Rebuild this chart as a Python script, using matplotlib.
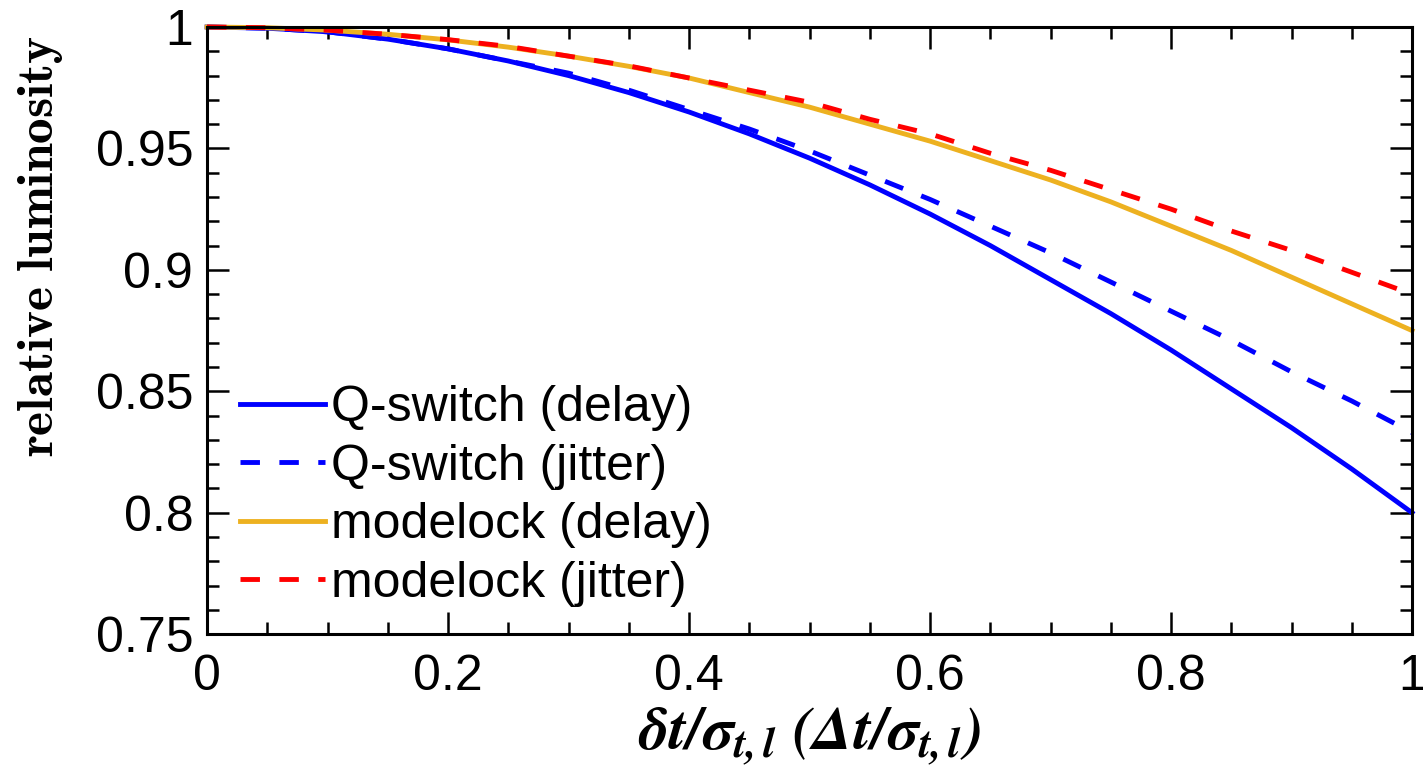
import matplotlib
matplotlib.use("Agg")
import matplotlib.pyplot as plt
from matplotlib.ticker import MultipleLocator, FuncFormatter

plt.rcParams["font.family"] = ["Liberation Sans", "DejaVu Sans"]

# values, x = 0 .. 1 in steps of 0.05
x = [0.00, 0.05, 0.10, 0.15, 0.20, 0.25, 0.30, 0.35, 0.40, 0.45, 0.50,
     0.55, 0.60, 0.65, 0.70, 0.75, 0.80, 0.85, 0.90, 0.95, 1.00]
qs_delay = [1.000, 0.9995, 0.998, 0.995, 0.991, 0.986, 0.980, 0.973, 0.965, 0.956, 0.946,
            0.935, 0.923, 0.910, 0.896, 0.882, 0.867, 0.851, 0.835, 0.818, 0.800]
qs_jitter = [1.000, 0.9995, 0.998, 0.995, 0.991, 0.986, 0.981, 0.974, 0.966, 0.958, 0.949,
             0.939, 0.929, 0.918, 0.907, 0.895, 0.883, 0.871, 0.858, 0.846, 0.833]
ml_delay = [1.000, 0.9997, 0.9987, 0.997, 0.9947, 0.9917, 0.988, 0.9838, 0.979, 0.973, 0.967,
            0.960, 0.953, 0.945, 0.937, 0.928, 0.918, 0.908, 0.897, 0.886, 0.875]
ml_jitter = [1.000, 0.9997, 0.9987, 0.997, 0.9948, 0.992, 0.988, 0.984, 0.979, 0.974, 0.969,
             0.962, 0.956, 0.948, 0.941, 0.933, 0.925, 0.916, 0.908, 0.899, 0.890]

labels = ["Q-switch (delay)", "Q-switch (jitter)", "modelock (delay)", "modelock (jitter)"]
xticks = [0, 0.2, 0.4, 0.6, 0.8, 1]
yticks = [0.75, 0.8, 0.85, 0.9, 0.95, 1]

BLUE = "#0000ff"
ORANGE = "#EDB120"
RED = "#ff0000"

fig = plt.figure(figsize=(14.23, 7.8), dpi=100)
ax = fig.add_axes([0.1455, 0.187, 0.8468, 0.7784])

LW = 3.5
ax.plot(x, qs_delay, color=BLUE, lw=LW, label=labels[0], clip_on=False)
ax.plot(x, qs_jitter, color=BLUE, lw=LW, ls=(0, (4, 4)), label=labels[1], clip_on=False)
ax.plot(x, ml_delay, color=ORANGE, lw=LW, label=labels[2], clip_on=False)
ax.plot(x, ml_jitter, color=RED, lw=LW, ls=(0, (4, 4)), label=labels[3], clip_on=False)

ax.set_xlim(0, 1)
ax.set_ylim(0.75, 1)
ax.set_xticks(xticks)
ax.set_yticks(yticks)
fmt = FuncFormatter(lambda v, p: f"{v:g}")
ax.xaxis.set_major_formatter(fmt)
ax.yaxis.set_major_formatter(fmt)
ax.xaxis.set_minor_locator(MultipleLocator(0.05))
ax.yaxis.set_minor_locator(MultipleLocator(0.01))

ax.tick_params(which="both", direction="in", top=True, right=True, width=1.8, labelsize=36)
ax.tick_params(which="major", length=16)
ax.tick_params(which="minor", length=8.5)
ax.tick_params(axis="x", pad=14)
ax.tick_params(axis="y", pad=10)
for s in ax.spines.values():
    s.set_linewidth(2.2)

ax.set_ylabel(r"$\mathbf{relative\ luminosity}$", fontsize=37, math_fontfamily="cm")
ax.yaxis.set_label_coords(-0.118, 0.64)
ax.set_xlabel(r"$\mathbfit{\delta t/\sigma_{t,l}\ (\Delta t/\sigma_{t,l})}$",
              fontsize=44, math_fontfamily="stix")
ax.xaxis.set_label_coords(0.5, -0.118)

ax.legend(loc="lower left", bbox_to_anchor=(0.027, 0.045), frameon=False, fontsize=36,
          handlelength=1.7, handletextpad=0.12, labelspacing=0.25, borderpad=0,
          borderaxespad=0)

fig.savefig("out.png", dpi=100, facecolor="white")
